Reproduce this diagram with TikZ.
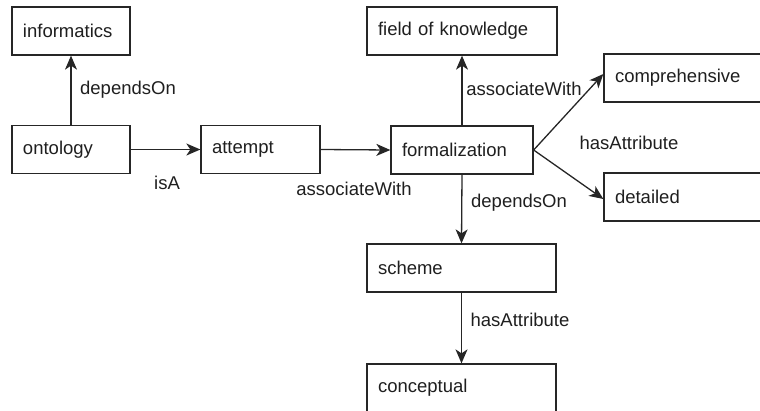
\documentclass[tikz,border=0pt]{standalone}
\usepackage{fontspec}
\setmainfont{Liberation Sans}
\usetikzlibrary{arrows.meta}
\begin{document}
\begin{tikzpicture}[x=1pt,y=-1pt,
  every node/.style={font=\fontsize{18.5}{22}\selectfont, text=black!88},
  concept/.style={draw=black!85, line width=1.3pt, fill=white,
    minimum height=48pt, minimum width=#1, inner xsep=11pt, inner ysep=0pt,
    text width=#1-22pt, align=left},
  concept/.default=118pt,
  rel/.style={draw=black!85, line width=1.3pt,
    -{Stealth[length=14pt,width=12pt,inset=4pt]}},
  lbl/.style={inner sep=0pt}]
\useasboundingbox (0,0) rectangle (760,410);
\clip (0,0) rectangle (760,410);

% concept boxes
\node[concept=118pt] (informatics) at (71,31) {informatics};
\node[concept=118pt] (ontology) at (71,149.5) {ontology};
\node[concept=119pt] (attempt) at (260.5,149.5) {attempt};
\node[concept=142pt] (formalization) at (462,150) {formalization};
\node[concept=190pt] (field) at (462,31) {field of knowledge};
\node[concept=220pt] (comprehensive) at (714,78) {comprehensive};
\node[concept=220pt] (detailed) at (714,197) {detailed};
\node[concept=189pt] (scheme) at (461.5,268) {scheme};
\node[concept=189pt] (conceptual) at (461.5,388) {conceptual};

% relations
\draw[rel] (ontology.north) -- (informatics.south);
\draw[rel] (ontology.east) -- (attempt.west);
\draw[rel] (attempt.east) -- (formalization.west);
\draw[rel] (formalization.north) -- (field.south);
\draw[rel] (formalization.east) -- ([yshift=4pt]comprehensive.west);
\draw[rel] (formalization.east) -- ([yshift=-2pt]detailed.west);
\draw[rel] (formalization.south) -- (scheme.north);
\draw[rel] (scheme.south) -- (conceptual.north);

% relation labels
\node[lbl] (l1) at (128,90) {dependsOn};
\node[lbl] (l2) at (167,183) {isA};
\node[lbl] (l3) at (354,189) {associateWith};
\node[lbl] (l4) at (524,89) {associateWith};
\node[lbl] (l5) at (629,143) {hasAttribute};
\node[lbl] (l6) at (519,203) {dependsOn};
\node[lbl] (l7) at (520,320) {hasAttribute};
\end{tikzpicture}
\end{document}
